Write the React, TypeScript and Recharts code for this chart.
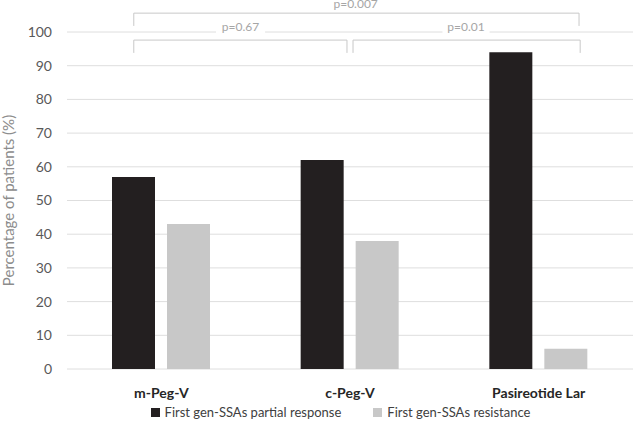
import React from 'react';
import {
  BarChart,
  Bar,
  XAxis,
  YAxis,
  CartesianGrid,
  Legend,
  ReferenceLine,
  ReferenceArea,
} from 'recharts';

// categories and series
const categories = ['m-Peg-V', 'c-Peg-V', 'Pasireotide Lar'];
const partialResponse = [57, 62, 94];
const resistance = [43, 38, 6];
const yTicks = [0, 10, 20, 30, 40, 50, 60, 70, 80, 90, 100];

const seriesNames = {
  partial: 'First gen-SSAs partial response',
  resistance: 'First gen-SSAs resistance',
};

// significance brackets, x in category units on a hidden numeric axis (0..3)
const brackets = [
  { x1: 0.354, x2: 1.484, top: 97.6, foot: 93.8 },
  { x1: 1.516, x2: 2.72, top: 97.6, foot: 93.8 },
  { x1: 0.354, x2: 2.714, top: 105.6, foot: 101.8 },
];
const pLabels = [
  { text: 'p=0.67', x1: 0.79, x2: 1.05, y1: 99.3, y2: 103.6, fill: '#fff' },
  { text: 'p=0.01', x1: 1.99, x2: 2.24, y1: 99.3, y2: 103.6, fill: '#fff' },
  { text: 'p=0.007', x1: 1.39, x2: 1.67, y1: 106.4, y2: 110.4, fill: 'none' },
];

const data = categories.map((name, i) => ({
  name,
  partial: partialResponse[i],
  resistance: resistance[i],
}));

const DARK = '#231f20';
const LIGHT = '#c8c8c8';
const FONT = 'Lato, "Open Sans", sans-serif';

const LegendContent = () => (
  <div
    style={{
      display: 'flex',
      justifyContent: 'center',
      alignItems: 'center',
      height: 22,
      paddingLeft: 48,
      boxSizing: 'border-box',
      fontFamily: FONT,
      fontSize: 13,
      color: '#404040',
    }}
  >
    <span style={{ display: 'inline-block', width: 9, height: 9, background: DARK, marginRight: 5 }} />
    <span style={{ marginRight: 32 }}>{seriesNames.partial}</span>
    <span style={{ display: 'inline-block', width: 9, height: 9, background: LIGHT, marginRight: 5 }} />
    <span>{seriesNames.resistance}</span>
  </div>
);

const YTitle = (props: any) => {
  const vb = props.viewBox || {};
  const cx = vb.x + 14;
  const cy = vb.y + vb.height / 2;
  return (
    <text
      x={cx}
      y={cy}
      transform={`rotate(-90, ${cx}, ${cy})`}
      textAnchor="middle"
      fill="#8c8c8c"
      fontSize={15}
      fontFamily={FONT}
    >
      Percentage of patients (%)
    </text>
  );
};

export default function App() {
  return (
    <div style={{ position: 'absolute', left: 0, top: 0, width: 633, height: 421, background: '#fff' }}>
      <BarChart
        width={633}
        height={421}
        data={data}
        margin={{ top: 32, right: 0, bottom: 0, left: 0 }}
        barSize={43}
        barGap={12}
      >
        <CartesianGrid vertical={false} stroke="#dedede" />
        <XAxis
          dataKey="name"
          axisLine={false}
          tickLine={false}
          height={30}
          tickMargin={13}
          tick={{ fill: '#262626', fontSize: 14, fontWeight: 700, fontFamily: FONT }}
        />
        <XAxis xAxisId="ann" dataKey="annX" type="number" domain={[0, 3]} allowDataOverflow hide />
        <YAxis
          width={67}
          domain={[0, 100]}
          ticks={yTicks}
          interval={0}
          axisLine={false}
          tickLine={false}
          tickSize={0}
          tickMargin={15}
          tick={{ fill: '#595959', fontSize: 14, fontFamily: FONT }}
          label={<YTitle />}
        />
        <Legend verticalAlign="bottom" content={<LegendContent />} wrapperStyle={{ bottom: -2 }} />
        <Bar dataKey="partial" name={seriesNames.partial} fill={DARK} isAnimationActive={false} />
        <Bar dataKey="resistance" name={seriesNames.resistance} fill={LIGHT} isAnimationActive={false} />
        {brackets.flatMap((b, i) => [
          <ReferenceLine
            key={`l${i}`}
            xAxisId="ann"
            ifOverflow="visible"
            stroke="#c8c8c8"
            segment={[{ x: b.x1, y: b.foot }, { x: b.x1, y: b.top }]}
          />,
          <ReferenceLine
            key={`t${i}`}
            xAxisId="ann"
            ifOverflow="visible"
            stroke="#c8c8c8"
            segment={[{ x: b.x1, y: b.top }, { x: b.x2, y: b.top }]}
          />,
          <ReferenceLine
            key={`r${i}`}
            xAxisId="ann"
            ifOverflow="visible"
            stroke="#c8c8c8"
            segment={[{ x: b.x2, y: b.top }, { x: b.x2, y: b.foot }]}
          />,
        ])}
        {pLabels.map((p) => (
          <ReferenceArea
            key={p.text}
            xAxisId="ann"
            x1={p.x1}
            x2={p.x2}
            y1={p.y1}
            y2={p.y2}
            ifOverflow="visible"
            fill={p.fill}
            fillOpacity={1}
            stroke="none"
            label={{ value: p.text, position: 'center', fill: '#a6a6a6', fontSize: 12, fontFamily: FONT }}
          />
        ))}
      </BarChart>
    </div>
  );
}
